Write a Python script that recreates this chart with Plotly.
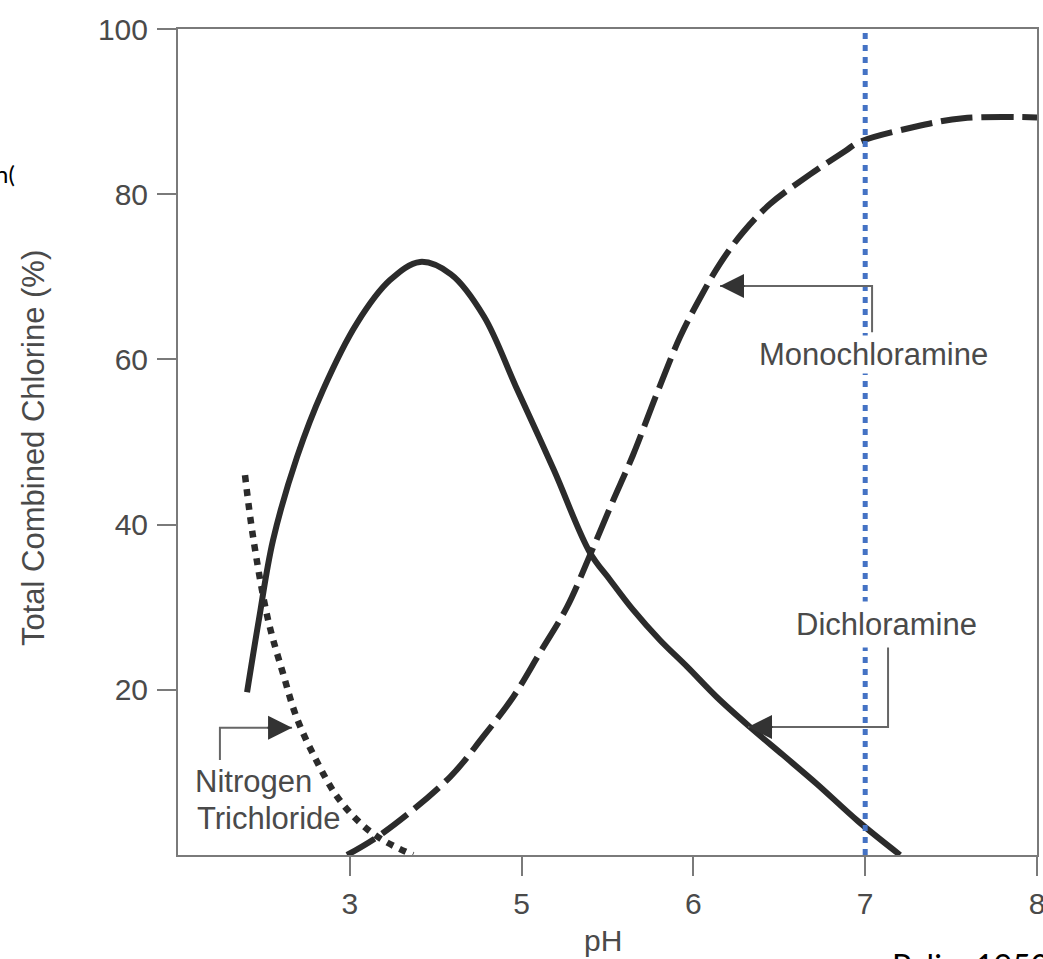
import plotly.graph_objects as go

# ---- data ----
ph_dichloramine = [3.402, 3.471, 3.553, 3.693, 3.844, 4.042, 4.234, 4.409, 4.589, 4.781,
                   4.967, 5.188, 5.398, 5.515, 5.648, 5.806, 5.963, 6.137, 6.329, 6.522,
                   6.719, 6.958, 7.203]
pct_dichloramine = [19.7, 28.5, 38.1, 48.2, 56.3, 64.4, 69.6, 71.8, 70.3, 65.2,
                    56.7, 46.6, 36.6, 33.3, 29.7, 26.0, 22.8, 19.1, 15.5, 12.1,
                    8.6, 4.1, 0.0]

ph_monochloramine = [3.984, 4.193, 4.583, 4.775, 4.950, 5.107, 5.264, 5.398, 5.526, 5.648,
                     5.788, 5.922, 6.038, 6.155, 6.289, 6.446, 6.679, 6.882, 6.964, 7.278,
                     7.569, 8.0]
pct_monochloramine = [0.0, 2.66, 9.44, 14.3, 19.1, 24.5, 30.0, 36.3, 42.6, 48.4,
                      55.9, 62.7, 67.4, 71.6, 75.4, 78.8, 82.4, 85.2, 86.3, 88.1,
                      89.2, 89.3]

ph_ncl3 = [3.390, 3.437, 3.524, 3.611, 3.693, 3.809, 3.925, 4.059, 4.193, 4.368]
pct_ncl3 = [46.0, 38.5, 28.5, 22.0, 16.5, 11.3, 7.1, 3.9, 1.8, 0.0]

ph_marker = 7.0

x_tickvals = [4, 5, 6, 7, 8]
x_ticktext = ["3", "5", "6", "7", "8"]
y_tickvals = [20, 40, 60, 80, 100]

AX = "#7a7a7a"
TXT = "#4a4a4a"
CURVE = "#2b2b2b"
FONT = "Liberation Sans, Arial, sans-serif"

fig = go.Figure()
fig.add_trace(go.Scatter(x=ph_monochloramine, y=pct_monochloramine, mode="lines",
                         line=dict(color=CURVE, width=6, dash="32px,9px", shape="spline"),
                         name="Monochloramine", showlegend=False))
fig.add_trace(go.Scatter(x=ph_ncl3, y=pct_ncl3, mode="lines",
                         line=dict(color=CURVE, width=6.5, dash="7px,7px", shape="spline"),
                         name="Nitrogen Trichloride", showlegend=False))
fig.add_trace(go.Scatter(x=ph_dichloramine, y=pct_dichloramine, mode="lines",
                         line=dict(color=CURVE, width=6, shape="spline"),
                         name="Dichloramine", showlegend=False))
fig.add_trace(go.Scatter(x=[ph_marker, ph_marker], y=[0, 100], mode="lines",
                         line=dict(color="#4472C4", width=5, dash="6px,6px"),
                         showlegend=False))

LINEC = "#666666"
HEADC = "#333333"
# callout elbows (label -> curve)
callouts = [
    # (label end x, label end y, elbow x, elbow y, tip x, tip y)
    (7.040, 63.3, 7.040, 68.9, 6.155, 68.9),   # Monochloramine
    (7.133, 25.4, 7.133, 15.5, 6.318, 15.5),   # Dichloramine
    (3.244, 11.5, 3.244, 15.4, 3.664, 15.4),   # Nitrogen Trichloride
]
for (x0, y0, xe, ye, xt, yt) in callouts:
    fig.add_shape(type="path", xref="x", yref="y",
                  path=f"M{x0},{y0} L{xe},{ye} L{xt},{yt}",
                  line=dict(color=LINEC, width=2))
    direction = 1 if xe > xt else -1
    fig.add_annotation(x=xt, y=yt, xref="x", yref="y", text="", showarrow=True,
                       ax=direction * 26, ay=0, arrowhead=2, arrowsize=2.4,
                       arrowwidth=2, arrowcolor=HEADC, standoff=0)

lab_font = dict(family=FONT, size=31, color=TXT)
fig.add_annotation(x=7.051, y=60.6, xref="x", yref="y", text="Monochloramine",
                   showarrow=False, font=lab_font, bgcolor="white",
                   xanchor="center", yanchor="middle")
fig.add_annotation(x=7.124, y=27.9, xref="x", yref="y", text="Dichloramine",
                   showarrow=False, font=lab_font, bgcolor="white",
                   xanchor="center", yanchor="middle", borderpad=5)
fig.add_annotation(x=3.087, y=8.9, xref="x", yref="y", text="Nitrogen",
                   showarrow=False, font=lab_font, xanchor="left", yanchor="middle")
fig.add_annotation(x=3.100, y=4.4, xref="x", yref="y", text="Trichloride",
                   showarrow=False, font=lab_font, xanchor="left", yanchor="middle")

# axis titles
fig.add_annotation(x=0, y=0.4927, xref="paper", yref="paper", xshift=-145,
                   text="Total Combined Chlorine (%)", textangle=-90, showarrow=False,
                   font=dict(family=FONT, size=31, color=TXT),
                   xanchor="center", yanchor="middle")
fig.add_annotation(x=0.4948, y=-0.104, xref="paper", yref="paper", text="pH",
                   showarrow=False, font=dict(family=FONT, size=30, color=TXT),
                   xanchor="center", yanchor="middle")

# slide remnants
fig.add_annotation(x=0, y=(855 - 173) / 826, xref="paper", yref="paper", xshift=-178 + 17,
                   text="n(", showarrow=False, font=dict(family="Lato", size=24, color="black"),
                   xanchor="right", yanchor="middle")
fig.add_annotation(x=(890 - 178) / 859, y=-(944 - 855) / 826, xref="paper", yref="paper",
                   text="Palin, 1950", showarrow=False,
                   font=dict(family="Lato", size=32, color="black"),
                   xanchor="left", yanchor="top")

fig.update_xaxes(range=[3, 8], tickvals=x_tickvals, ticktext=x_ticktext,
                 showline=True, linecolor=AX, linewidth=2, mirror=True,
                 ticks="outside", ticklen=19, tickwidth=2, tickcolor=AX,
                 showgrid=False, zeroline=False, ticklabeloverflow="allow",
                 ticklabelstandoff=2,
                 tickfont=dict(family=FONT, size=30, color=TXT), automargin=False)
fig.update_yaxes(range=[0, 100], tickvals=y_tickvals,
                 showline=True, linecolor=AX, linewidth=2, mirror=True,
                 ticks="outside", ticklen=19, tickwidth=2, tickcolor=AX,
                 showgrid=False, zeroline=False, ticklabelstandoff=3,
                 tickfont=dict(family=FONT, size=30, color=TXT), automargin=False)

fig.update_layout(width=1043, height=959, margin=dict(l=178, r=6, t=29, b=104),
                  paper_bgcolor="white", plot_bgcolor="white", showlegend=False)

fig.write_html("out.html", config={"displayModeBar": False},
               post_script="document.body.style.margin='0px';"
                           "document.documentElement.style.overflow='hidden';")
